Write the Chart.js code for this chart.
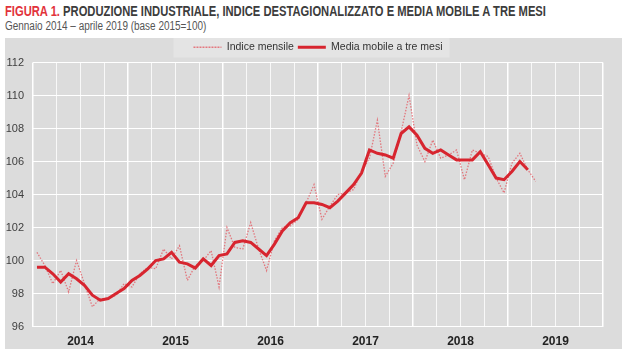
<!DOCTYPE html>
<html>
<head>
<meta charset="utf-8">
<script src="https://cdn.jsdelivr.net/npm/chart.js@4.4.1/dist/chart.umd.min.js"></script>
<style>
html,body{margin:0;padding:0;background:#ffffff;width:630px;height:360px;overflow:hidden;}
#title{position:absolute;left:5px;top:3px;font:bold 14px "Liberation Sans Narrow","Liberation Sans",Arial,sans-serif;color:#3c3c3c;white-space:nowrap;transform:scaleX(0.8);transform-origin:0 0;}
#title .fig{color:#e2333b;}
#sub{position:absolute;left:5px;top:19px;font:12px "Liberation Sans Narrow","Liberation Sans",Arial,sans-serif;color:#555555;white-space:nowrap;transform:scaleX(0.83);transform-origin:0 0;}
#panel{position:absolute;left:5px;top:38px;width:617px;height:311px;background:#dcdcdc;}
#wrap{position:absolute;left:0;top:0;width:630px;height:360px;}
</style>
</head>
<body>
<div id="title"><span class="fig">FIGURA 1.</span> PRODUZIONE INDUSTRIALE, INDICE DESTAGIONALIZZATO E MEDIA MOBILE A TRE MESI</div>
<div id="sub">Gennaio 2014 – aprile 2019 (base 2015=100)</div>
<div id="panel"></div>
<div id="wrap"><canvas id="c" width="630" height="360"></canvas></div>
<script>
// ---- data ----
const years = ['2014', '2015', '2016', '2017', '2018', '2019'];
const months = ['gen', 'feb', 'mar', 'apr', 'mag', 'giu', 'lug', 'ago', 'set', 'ott', 'nov', 'dic'];
const yTickValues = [96, 98, 100, 102, 104, 106, 108, 110, 112];

// Indice mensile (gen 2014 - apr 2019)
const indiceMensile = [
  100.5, 99.7, 98.6, 99.4, 98.1, 100.0, 98.6, 97.2, 97.7, 97.7, 97.9, 98.6,
  98.4, 99.2, 99.6, 99.5, 100.7, 100.1, 100.9, 98.8, 99.7, 100.0, 100.6, 98.4,
  102.0, 100.8, 100.7, 102.3, 100.7, 99.4, 101.2, 102.0, 102.1, 102.5, 103.5, 104.6,
  102.5, 103.3, 104.0, 104.1, 104.3, 105.4, 106.2, 108.5, 105.1, 105.9, 107.8, 110.0,
  107.0, 106.0, 107.3, 106.2, 106.4, 106.7, 104.9, 106.7, 106.5, 106.3, 105.0, 104.1,
  105.9, 106.5, 105.5, 104.8
];

// Media mobile a tre mesi (gen 2014 - mar 2019)
const mediaMobile = [
  99.6, 99.6, 99.2, 98.7, 99.2, 98.9, 98.5, 97.9, 97.6, 97.7, 98.0, 98.3,
  98.8, 99.1, 99.5, 100.0, 100.1, 100.5, 99.9, 99.8, 99.55, 100.1, 99.7, 100.3,
  100.4, 101.1, 101.2, 101.1, 100.7, 100.3, 101.0, 101.8, 102.3, 102.6, 103.5, 103.5,
  103.4, 103.2, 103.6, 104.1, 104.6, 105.3, 106.7, 106.5, 106.4, 106.2, 107.7, 108.1,
  107.6, 106.8, 106.5, 106.7, 106.4, 106.1, 106.1, 106.1, 106.6, 105.8, 105.0, 104.9,
  105.4, 106.0, 105.5
];

const monthLabels = [];
years.forEach(y => months.forEach(m => monthLabels.push(m + ' ' + y)));

const FONT = '"Liberation Sans Narrow", "Liberation Sans", Arial, sans-serif';

const legendPlugin = {
  id: 'legendCenterAndBg',
  afterLayout(chart) {
    const lg = chart.legend, ca = chart.chartArea;
    if (!lg || !ca) return;
    const shift = (ca.left + ca.right) / 2 - (lg.left + lg.right) / 2;
    lg.left += shift;
    lg.right += shift;
  },
  beforeDraw(chart) {
    const lg = chart.legend;
    if (!lg || !lg.legendHitBoxes || !lg.legendHitBoxes.length) return;
    let minX = Infinity, maxX = -Infinity;
    lg.legendHitBoxes.forEach(b => { minX = Math.min(minX, b.left); maxX = Math.max(maxX, b.left + b.width); });
    const ctx = chart.ctx;
    ctx.save();
    ctx.fillStyle = '#e4e4e4';
    ctx.fillRect(minX - 20, lg.top, (maxX - minX) + 27, lg.height - 5);
    ctx.restore();
  }
};

new Chart(document.getElementById('c'), {
  type: 'line',
  data: {
    labels: monthLabels,
    datasets: [
      {
        label: 'Indice mensile',
        data: indiceMensile,
        borderColor: 'rgba(228,84,94,0.75)',
        backgroundColor: 'rgba(0,0,0,0)',
        borderWidth: 1.3,
        borderDash: [1.5, 1.5],
        pointRadius: 0,
        tension: 0,
        order: 1
      },
      {
        label: 'Media mobile a tre mesi',
        data: mediaMobile,
        borderColor: '#d7252f',
        backgroundColor: 'rgba(0,0,0,0)',
        borderWidth: 3,
        pointRadius: 0,
        tension: 0,
        order: 0
      }
    ]
  },
  options: {
    responsive: false,
    animation: false,
    events: [],
    layout: { padding: { left: 5, right: 27, top: 38, bottom: 3 } },
    plugins: {
      tooltip: { enabled: false },
      legend: {
        display: true,
        position: 'top',
        align: 'center',
        labels: {
          boxWidth: 28,
          boxHeight: 0,
          padding: 4,
          color: '#333333',
          font: { family: FONT, size: 10.5 },
          sort: (a, b) => a.datasetIndex - b.datasetIndex
        }
      }
    },
    scales: {
      x: {
        type: 'category',
        offset: true,
        position: 'bottom',
        grid: {
          offset: true,
          drawTicks: false,
          color: c => (c.index === undefined || c.index % 12 === 0) ? '#ffffff' : (c.index % 3 === 0 ? 'rgba(255,255,255,0.8)' : 'rgba(0,0,0,0)'),
          lineWidth: c => (c.index === undefined || c.index % 12 === 0) ? 1.5 : 1
        },
        border: { display: false },
        ticks: { display: false, autoSkip: false }
      },
      x2: {
        type: 'category',
        labels: years,
        offset: true,
        position: 'bottom',
        grid: { display: false, drawTicks: false },
        border: { display: false },
        ticks: {
          autoSkip: false,
          maxRotation: 0,
          padding: 8,
          color: '#222222',
          font: { family: FONT, size: 12, weight: 'bold' }
        }
      },
      y: {
        min: yTickValues[0],
        max: yTickValues[yTickValues.length - 1],
        afterBuildTicks: s => { s.ticks = yTickValues.map(v => ({ value: v })); },
        afterFit: s => { s.width = 28; },
        grid: { color: '#ffffff', lineWidth: 1, drawTicks: false },
        border: { display: false },
        ticks: {
          padding: 9,
          color: '#404040',
          font: { family: FONT, size: 11 }
        }
      }
    }
  },
  plugins: [legendPlugin]
});
</script>
</body>
</html>
